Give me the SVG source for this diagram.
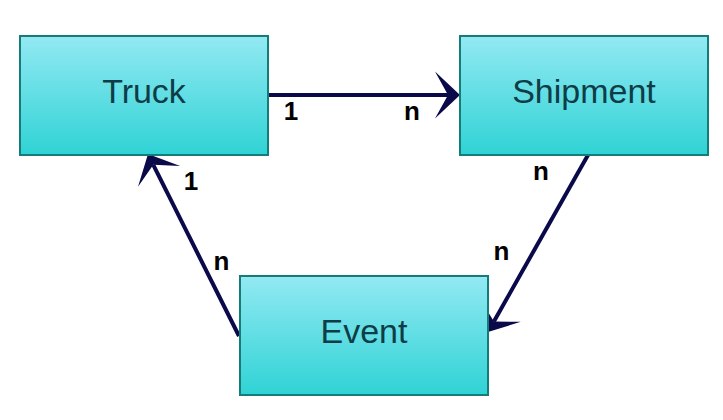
<svg xmlns="http://www.w3.org/2000/svg" width="723" height="420" viewBox="0 0 723 420">
<style>
.box{stroke:#167c7a;stroke-width:2;fill:url(#g)}
.name{font-family:"Liberation Sans",Arial,sans-serif;font-size:34px;fill:#0e3c47;text-anchor:middle}
.card{font-family:"Liberation Sans",Arial,sans-serif;font-size:26px;font-weight:bold;fill:#000;text-anchor:middle}
.conn{stroke:#0a0a4a;stroke-width:4;fill:none}
.head{fill:#0a0a4a}
</style>
<defs>
<linearGradient id="g" x1="0" y1="0" x2="0" y2="1">
<stop offset="0" stop-color="#93e9f3"/>
<stop offset="1" stop-color="#2fd3d5"/>
</linearGradient>
<path id="head" class="head" d="M0,0 L-25,-23.5 L-12,0 L-25,23.5 Z"/>
</defs>
<rect width="723" height="420" fill="#fff"/>
<g id="connectors">
<line class="conn" x1="268" y1="95" x2="449" y2="95"/>
<use href="#head" transform="translate(460,95)"/>
<line class="conn" x1="588" y1="155" x2="493.9" y2="321.5"/>
<use href="#head" transform="translate(488,332) rotate(119.5)"/>
<line class="conn" x1="239" y1="336" x2="153.3" y2="164.8"/>
<use href="#head" transform="translate(148,154) rotate(-116.3)"/>
<text class="card" x="291" y="120">1</text>
<text class="card" x="412" y="120">n</text>
<text class="card" x="541" y="180">n</text>
<text class="card" x="501.5" y="260">n</text>
<text class="card" x="191" y="190">1</text>
<text class="card" x="221.5" y="270">n</text>
</g>
<g id="truck">
<rect class="box" x="20" y="36" width="248" height="119"/>
<text class="name" x="144" y="103">Truck</text>
</g>
<g id="shipment">
<rect class="box" x="460" y="36" width="248" height="119"/>
<text class="name" x="584" y="103">Shipment</text>
</g>
<g id="event">
<rect class="box" x="240" y="276" width="248" height="119"/>
<text class="name" x="364" y="343">Event</text>
</g>
</svg>
